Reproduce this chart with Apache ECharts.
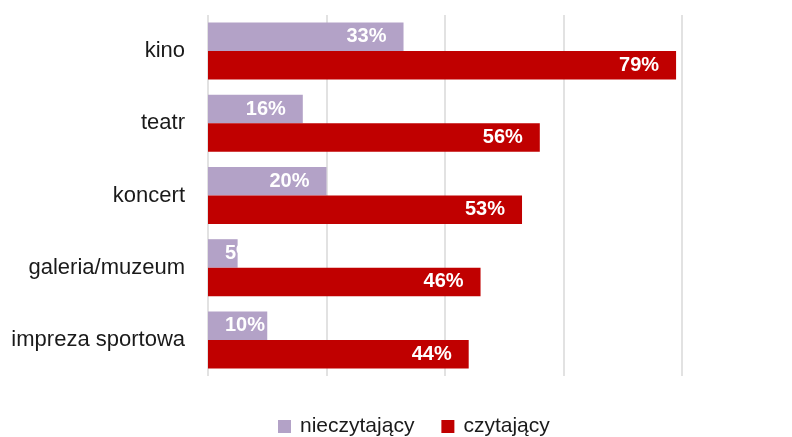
<!DOCTYPE html>
<html>
<head>
<meta charset="utf-8">
<script src="https://cdn.jsdelivr.net/npm/echarts@6/dist/echarts.min.js"></script>
<style>
html,body{margin:0;padding:0;background:#fff;}
#chart{width:792px;height:437px;}
</style>
</head>
<body>
<div id="chart"></div>
<script>
var categories = ['kino', 'teatr', 'koncert', 'galeria/muzeum', 'impreza sportowa'];
var nieczytajacy = [33, 16, 20, 5, 10];
var czytajacy = [79, 56, 53, 46, 44];
var seriesNames = ['nieczytający', 'czytający'];
var xTicks = [0, 20, 40, 60, 80];

var FONT = 'Liberation Sans';
function makeData(vals) {
  return vals.map(function (v) {
    var item = { value: v };
    if (v <= 10) {
      item.label = { position: 'insideLeft', distance: 17 };
    }
    return item;
  });
}
var labelCfg = {
  show: true,
  position: 'insideRight',
  distance: 17,
  color: '#fff',
  fontFamily: FONT,
  fontWeight: 'bold',
  fontSize: 20,
  formatter: '{c}%'
};
var chart = echarts.init(document.getElementById('chart'));
chart.setOption({
  animation: false,
  textStyle: { fontFamily: FONT },
  grid: { left: 208, right: 110, top: 15, bottom: 61, containLabel: false },
  legend: {
    data: seriesNames,
    left: 278,
    top: 416,
    padding: 0,
    itemWidth: 13,
    itemHeight: 13,
    itemGap: 27,
    icon: 'rect',
    textStyle: { fontFamily: FONT, fontSize: 21, color: '#1a1a1a', padding: [0, 0, 0, 4] }
  },
  xAxis: {
    type: 'value',
    min: xTicks[0],
    max: xTicks[xTicks.length - 1],
    interval: 20,
    axisLabel: { show: false },
    axisLine: { show: false },
    axisTick: { show: false },
    splitLine: { show: true, lineStyle: { color: '#d9d9d9', width: 1.5 } }
  },
  yAxis: {
    type: 'category',
    data: categories,
    inverse: true,
    axisLine: { show: false },
    axisTick: { show: false },
    axisLabel: { fontFamily: FONT, fontSize: 22, color: '#1a1a1a', margin: 23 }
  },
  series: [
    {
      name: seriesNames[0],
      type: 'bar',
      data: makeData(nieczytajacy),
      barWidth: 28.5,
      barGap: '0%',
      itemStyle: { color: '#b3a2c7' },
      label: labelCfg
    },
    {
      name: seriesNames[1],
      type: 'bar',
      data: makeData(czytajacy),
      barWidth: 28.5,
      barGap: '0%',
      itemStyle: { color: '#c00000' },
      label: labelCfg
    }
  ]
});
</script>
</body>
</html>
